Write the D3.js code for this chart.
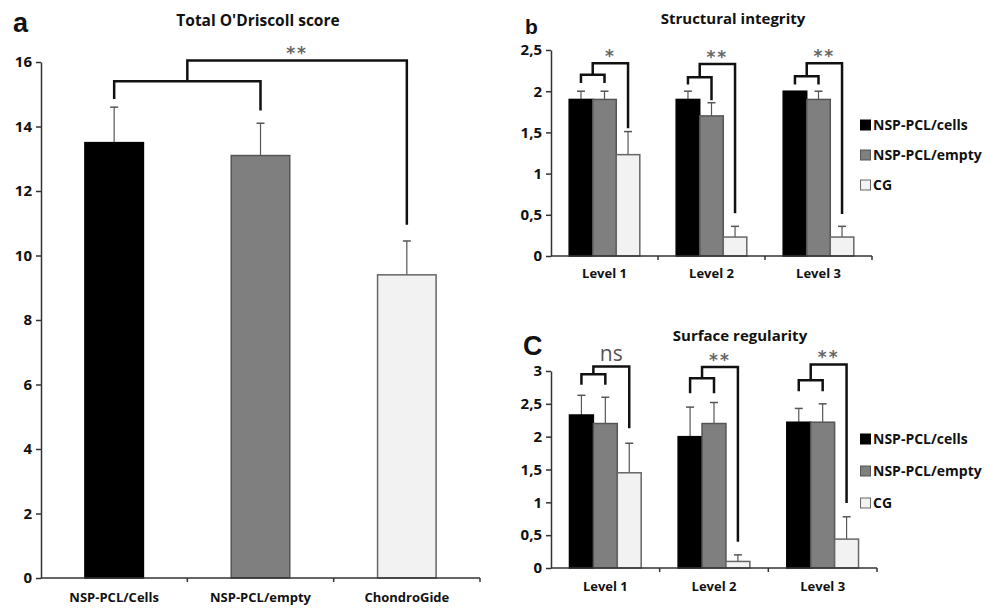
<!DOCTYPE html>
<html>
<head>
<meta charset="utf-8">
<script src="https://cdn.jsdelivr.net/npm/d3@7"></script>
<style>
  body { margin: 0; background: #fff; }
  svg { display: block; }
</style>
</head>
<body>
<div id="chart"></div>
<script>
// ---- data ----
const totalCats = ['NSP-PCL/Cells', 'NSP-PCL/empty', 'ChondroGide'];
const totalMeans = [13.5, 13.1, 9.4];
const totalErrs = [1.1, 1.0, 1.05];

const levels = ['Level 1', 'Level 2', 'Level 3'];
const seriesNames = ['NSP-PCL/cells', 'NSP-PCL/empty', 'CG'];
const seriesColors = ['#000000', '#7f7f7f', '#f2f2f2'];
const seriesStrokes = ['#000000', '#555555', '#666666'];

const structMeans = [[1.9, 1.9, 1.23], [1.9, 1.7, 0.23], [2.0, 1.9, 0.23]];
const structErrs = [[0.1, 0.1, 0.28], [0.1, 0.16, 0.13], [0, 0.1, 0.13]];

const surfMeans = [[2.33, 2.2, 1.45], [2.0, 2.2, 0.1], [2.22, 2.22, 0.44]];
const surfErrs = [[0.3, 0.4, 0.45], [0.45, 0.32, 0.1], [0.21, 0.28, 0.34]];

// significance brackets, in axis units: inner bar, its two legs, outer bar, outer leg
const totalBracket = { inner: 15.4, legL: 14.85, legR: 14.5, outer: 16.05, legOut: 10.95, label: '**' };
const structBrackets = [
  { inner: 2.2, legL: 2.1, legR: 2.1, outer: 2.34, legOut: 1.55, label: '*' },
  { inner: 2.17, legL: 2.08, legR: 1.89, outer: 2.33, legOut: 0.52, label: '**' },
  { inner: 2.18, legL: 2.08, legR: 2.08, outer: 2.34, legOut: 0.51, label: '**' }
];
const surfBrackets = [
  { inner: 2.95, legL: 2.79, legR: 2.79, outer: 3.07, legOut: 2.13, label: 'ns' },
  { inner: 2.89, legL: 2.66, legR: 2.66, outer: 3.06, legOut: 0.4, label: '**' },
  { inner: 2.86, legL: 2.69, legR: 2.69, outer: 3.1, legOut: 0.99, label: '**' }
];

const totalTicks = [0, 2, 4, 6, 8, 10, 12, 14, 16];
const structTicks = [0, 0.5, 1, 1.5, 2, 2.5];
const surfTicks = [0, 0.5, 1, 1.5, 2, 2.5, 3];

// ---- setup ----
const width = 985;
const height = 608;
const FONT = '"Open Sans", Lato, sans-serif';
const commaFmt = d3.formatLocale({ decimal: ',', thousands: '.', grouping: [3], currency: ['', ''] }).format('~g');

const svg = d3.select('#chart').append('svg')
  .attr('width', width)
  .attr('height', height)
  .style('background', '#fff');

function drawAxes(g, x, y, ticks, labelY) {
  const yAxis = g.append('g')
    .attr('transform', `translate(${x.range()[0]},0)`)
    .call(d3.axisLeft(y).tickValues(ticks).tickSize(5).tickSizeOuter(0).tickFormat(commaFmt));
  yAxis.select('.domain').attr('stroke', '#333').attr('stroke-width', 1.5);
  yAxis.selectAll('.tick line').attr('stroke', '#333').attr('stroke-width', 1.5);
  yAxis.selectAll('.tick text')
    .attr('x', -9)
    .attr('font-family', FONT)
    .attr('font-weight', 'bold')
    .attr('font-size', 15)
    .attr('fill', '#111');

  const y0 = y(0);
  const [x0, x1] = x.range();
  g.append('line')
    .attr('x1', x0).attr('x2', x1)
    .attr('y1', y0).attr('y2', y0)
    .attr('stroke', '#333').attr('stroke-width', 1.5);

  // tick marks between categories and at the right end
  const bounds = x.domain().slice(1).map(d => x(d)).concat([x1]);
  g.append('g').selectAll('line')
    .data(bounds)
    .enter().append('line')
    .attr('x1', d => d).attr('x2', d => d)
    .attr('y1', y0).attr('y2', y0 + 4)
    .attr('stroke', '#333').attr('stroke-width', 1.5);

  g.append('g').selectAll('text')
    .data(x.domain())
    .enter().append('text')
    .attr('x', d => x(d) + x.bandwidth() / 2)
    .attr('y', labelY)
    .attr('text-anchor', 'middle')
    .attr('font-family', FONT)
    .attr('font-weight', 'bold')
    .attr('font-size', 13)
    .attr('fill', '#111')
    .text(d => d);
}

function drawBracket(g, y, xl, xr, xo, b, labelSize, labelColor) {
  const xm = (xl + xr) / 2;
  const path = d3.path();
  path.moveTo(xl, y(b.legL));
  path.lineTo(xl, y(b.inner));
  path.lineTo(xr, y(b.inner));
  path.lineTo(xr, y(b.legR));
  path.moveTo(xm, y(b.inner));
  path.lineTo(xm, y(b.outer));
  path.lineTo(xo, y(b.outer));
  path.lineTo(xo, y(b.legOut));
  g.append('path')
    .attr('d', path.toString())
    .attr('fill', 'none')
    .attr('stroke', '#111')
    .attr('stroke-width', 2.5);

  const isNs = b.label === 'ns';
  g.append('text')
    .attr('x', (xm + xo) / 2)
    .attr('y', y(b.outer) - (isNs ? 5 : 1))
    .attr('text-anchor', 'middle')
    .attr('font-family', isNs ? FONT : '"DejaVu Sans", sans-serif')
    .attr('font-weight', isNs ? 'normal' : 'bold')
    .attr('letter-spacing', isNs ? 0 : 2)
    .attr('font-size', labelSize)
    .attr('fill', labelColor)
    .text(b.label);
}

function drawErr(g, cx, yTop, yEnd) {
  g.append('line')
    .attr('x1', cx).attr('x2', cx)
    .attr('y1', yTop).attr('y2', yEnd)
    .attr('stroke', '#555').attr('stroke-width', 1.2);
  g.append('line')
    .attr('x1', cx - 4).attr('x2', cx + 4)
    .attr('y1', yEnd).attr('y2', yEnd)
    .attr('stroke', '#555').attr('stroke-width', 1.5);
}

// ---- panel a ----
const ga = svg.append('g');
const xa = d3.scaleBand().domain(totalCats).range([41, 480]).padding(0);
const ya = d3.scaleLinear().domain([0, 16]).range([578, 62]);
const barWa = xa.bandwidth() * 0.4;

totalCats.forEach((c, i) => {
  const cx = xa(c) + xa.bandwidth() / 2;
  drawErr(ga, cx, ya(totalMeans[i]), ya(totalMeans[i] + totalErrs[i]));
});

ga.append('g').selectAll('rect')
  .data(totalCats)
  .enter().append('rect')
  .attr('x', d => xa(d) + xa.bandwidth() / 2 - barWa / 2)
  .attr('y', (d, i) => ya(totalMeans[i]))
  .attr('width', barWa)
  .attr('height', (d, i) => ya(0) - ya(totalMeans[i]))
  .attr('fill', (d, i) => seriesColors[i])
  .attr('stroke', (d, i) => seriesStrokes[i])
  .attr('stroke-width', 1.5);

drawAxes(ga, xa, ya, totalTicks, 602);

drawBracket(ga, ya,
  xa(totalCats[0]) + xa.bandwidth() / 2,
  xa(totalCats[1]) + xa.bandwidth() / 2,
  xa(totalCats[2]) + xa.bandwidth() / 2,
  totalBracket, 17, '#666');

ga.append('text')
  .attr('x', 258).attr('y', 26)
  .attr('text-anchor', 'middle')
  .attr('font-family', FONT).attr('font-weight', 'bold').attr('font-size', 15.5)
  .attr('fill', '#111')
  .text("Total O'Driscoll score");

ga.append('text')
  .attr('x', 13).attr('y', 32)
  .attr('font-family', '"Liberation Sans", Arial, sans-serif').attr('font-weight', 'bold').attr('font-size', 27)
  .attr('fill', '#111')
  .text('a');

// ---- grouped panels b and c ----
function groupedPanel(opts) {
  const g = svg.append('g');
  const x = d3.scaleBand().domain(levels).range(opts.xRange).padding(0);
  const y = d3.scaleLinear().domain(opts.yDomain).range(opts.yRange);
  const xs = d3.scaleBand().domain(seriesNames)
    .range([0, x.bandwidth() * 0.66]).padding(0);
  const off = (x.bandwidth() - x.bandwidth() * 0.66) / 2;

  levels.forEach((lv, li) => {
    seriesNames.forEach((s, si) => {
      const cx = x(lv) + off + xs(s) + xs.bandwidth() / 2;
      const m = opts.means[li][si];
      const e = opts.errs[li][si];
      if (e > 0) drawErr(g, cx, y(m), y(m + e));
    });
    g.append('g').selectAll('rect')
      .data(seriesNames)
      .enter().append('rect')
      .attr('x', s => x(lv) + off + xs(s))
      .attr('y', (s, si) => y(opts.means[li][si]))
      .attr('width', xs.bandwidth())
      .attr('height', (s, si) => y(0) - y(opts.means[li][si]))
      .attr('fill', (s, si) => seriesColors[si])
      .attr('stroke', (s, si) => seriesStrokes[si])
      .attr('stroke-width', 1.5);
  });

  drawAxes(g, x, y, opts.ticks, opts.labelY);

  levels.forEach((lv, li) => {
    const c = s => x(lv) + off + xs(s) + xs.bandwidth() / 2;
    drawBracket(g, y, c(seriesNames[0]), c(seriesNames[1]), c(seriesNames[2]),
      opts.brackets[li],
      opts.brackets[li].label === 'ns' ? 21 : 17,
      opts.brackets[li].label === 'ns' ? '#555' : '#666');
  });

  g.append('text')
    .attr('x', opts.titleX).attr('y', opts.titleY)
    .attr('text-anchor', 'middle')
    .attr('font-family', FONT).attr('font-weight', 'bold').attr('font-size', 15)
    .attr('fill', '#111')
    .text(opts.title);

  g.append('text')
    .attr('x', opts.letterX).attr('y', opts.letterY)
    .attr('font-family', '"Liberation Sans", Arial, sans-serif').attr('font-weight', 'bold')
    .attr('font-size', opts.letterSize)
    .attr('fill', '#111')
    .text(opts.letter);

  const legend = g.append('g')
    .attr('transform', `translate(860, ${opts.legendY})`);
  legend.selectAll('rect')
    .data(seriesNames)
    .enter().append('rect')
    .attr('x', 0.5)
    .attr('y', (d, i) => i * opts.legendStep - 5)
    .attr('width', 10)
    .attr('height', 10)
    .attr('fill', (d, i) => seriesColors[i])
    .attr('stroke', (d, i) => seriesStrokes[i])
    .attr('stroke-width', 1);
  legend.selectAll('text')
    .data(seriesNames)
    .enter().append('text')
    .attr('x', 13)
    .attr('y', (d, i) => i * opts.legendStep)
    .attr('dy', '0.35em')
    .attr('font-family', FONT).attr('font-weight', 'bold').attr('font-size', 14)
    .attr('fill', '#111')
    .text(d => d);
}

groupedPanel({
  xRange: [551, 872], yDomain: [0, 2.5], yRange: [256, 50],
  means: structMeans, errs: structErrs, brackets: structBrackets,
  ticks: structTicks, labelY: 278,
  title: 'Structural integrity', titleX: 733, titleY: 24,
  letter: 'b', letterX: 525, letterY: 34, letterSize: 21,
  legendY: 125, legendStep: 30
});

groupedPanel({
  xRange: [551, 877], yDomain: [0, 3], yRange: [568, 371],
  means: surfMeans, errs: surfErrs, brackets: surfBrackets,
  ticks: surfTicks, labelY: 591,
  title: 'Surface regularity', titleX: 740, titleY: 341,
  letter: 'C', letterX: 523, letterY: 355, letterSize: 27,
  legendY: 439, legendStep: 32
});
</script>
</body>
</html>
